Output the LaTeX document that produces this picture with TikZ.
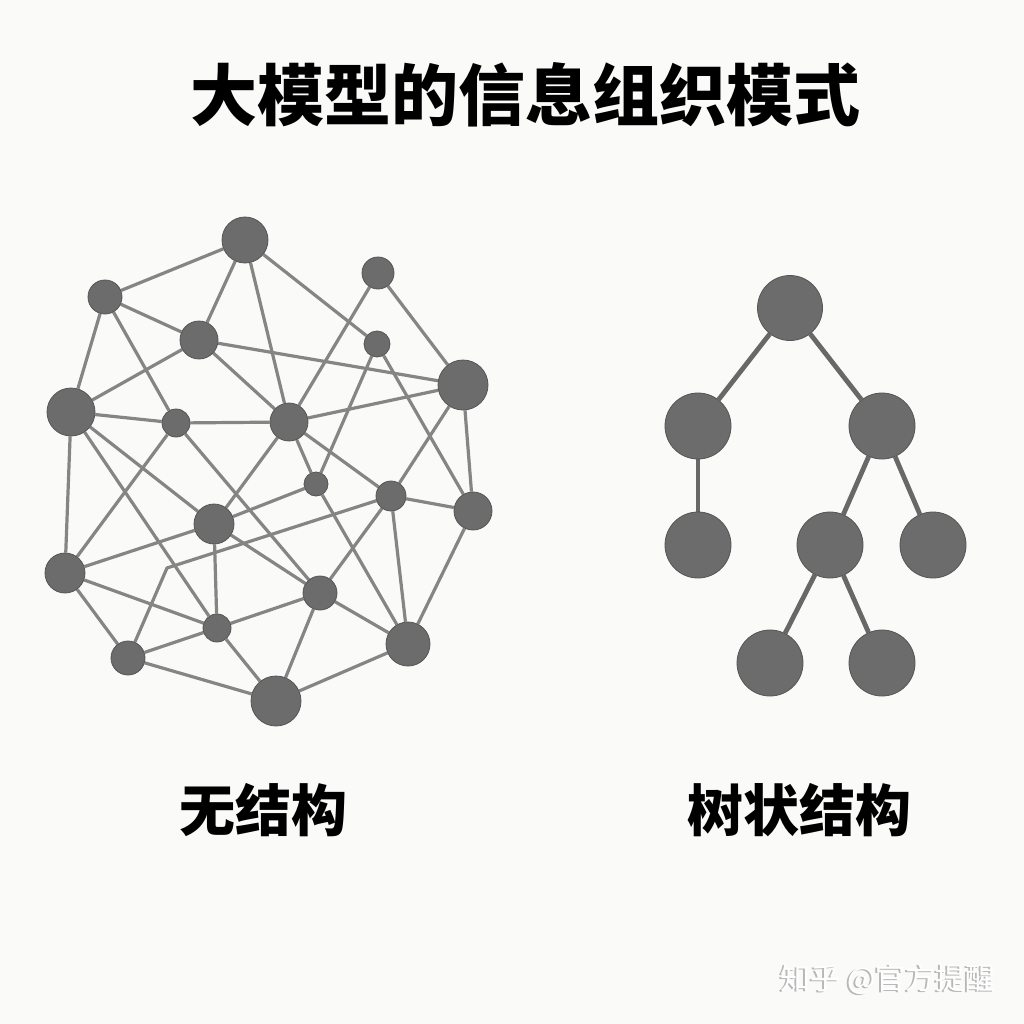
\documentclass[tikz,border=0pt]{standalone}
\usepackage{fontspec}
\newfontfamily\cjk{Noto Sans CJK SC}
\usetikzlibrary{backgrounds}
\definecolor{bg}{HTML}{FAFAF8}
\definecolor{nodefill}{HTML}{6C6C6C}
\definecolor{nodeline}{HTML}{555555}
\definecolor{edgecol}{HTML}{858585}
\definecolor{treeedge}{HTML}{686868}
\begin{document}
\begin{tikzpicture}[x=1pt,y=-1pt,
  nd/.style={circle,fill=nodefill,draw=nodeline,line width=0.8pt,inner sep=0pt,minimum size=#1},
  ed/.style={draw=edgecol,line width=3.2pt,line join=round},
  ted/.style={draw=treeedge,line width=4.8pt},
  lbl/.style={font=\cjk\bfseries\fontsize{56}{56}\selectfont,text=black,inner sep=0pt}]
\useasboundingbox (0,0) rectangle (1024,1024);
% network nodes
\node[nd=46] (A) at (245,240) {};
\node[nd=34] (B) at (105,297) {};
\node[nd=32] (C) at (378,273) {};
\node[nd=38] (D) at (199,340) {};
\node[nd=26] (E) at (377,344) {};
\node[nd=50] (F) at (463,385) {};
\node[nd=48] (G) at (71,412) {};
\node[nd=28] (H) at (176,423) {};
\node[nd=38] (I) at (289,422) {};
\node[nd=24] (J) at (316,484) {};
\node[nd=30] (K) at (391,496) {};
\node[nd=38] (L) at (473,511) {};
\node[nd=40] (M) at (214,524) {};
\node[nd=40] (N) at (65,573) {};
\node[nd=34] (O) at (320,593) {};
\node[nd=28] (P) at (217,628) {};
\node[nd=44] (Q) at (408,644) {};
\node[nd=34] (R) at (128,658) {};
\node[nd=50] (S) at (276,701) {};
\coordinate (bend) at (167,568);
% tree nodes
\node[nd=65] (t0) at (790,308) {};
\node[nd=66] (t1) at (698,426) {};
\node[nd=66] (t2) at (882,426) {};
\node[nd=66] (t11) at (698,545) {};
\node[nd=66] (t21) at (830,545) {};
\node[nd=66] (t22) at (933,545) {};
\node[nd=66] (t211) at (770,663) {};
\node[nd=66] (t212) at (882,663) {};
\begin{scope}[on background layer]
\fill[bg] (0,0) rectangle (1024,1024);
\foreach \a/\b in {A/B,A/D,A/I,A/E,B/D,B/G,B/H,C/I,C/F,D/G,D/I,D/F,E/J,E/L,
  F/I,F/K,F/L,G/H,G/N,G/M,G/P,H/I,H/N,H/O,I/M,I/K,I/J,J/M,J/Q,K/O,K/Q,K/L,
  L/Q,M/N,M/O,M/P,N/R,N/P,O/P,O/Q,O/S,P/R,P/S,Q/S,R/S}
  \draw[ed] (\a) -- (\b);
\draw[ed] (R) -- (bend) -- (K);
\foreach \a/\b in {t0/t1,t0/t2,t1/t11,t2/t21,t2/t22,t21/t211,t21/t212}
  \draw[ted] (\a) -- (\b);
\end{scope}
% texts
\node[font=\cjk\bfseries\fontsize{67}{67}\selectfont,text=black,inner sep=0pt] (title) at (525,95) {大模型的信息组织模式};
\node[lbl] (lab1) at (263,810) {无结构};
\node[lbl] (lab2) at (799,810) {树状结构};
\node[font=\cjk\fontsize{30}{30}\selectfont,text=black!28,inner sep=0pt] (wm0) at (886,980) {知乎 @官方提醒};
\node[font=\cjk\fontsize{30}{30}\selectfont,text=white,inner sep=0pt] (wm) at (888,979) {知乎 @官方提醒};
\end{tikzpicture}
\end{document}
